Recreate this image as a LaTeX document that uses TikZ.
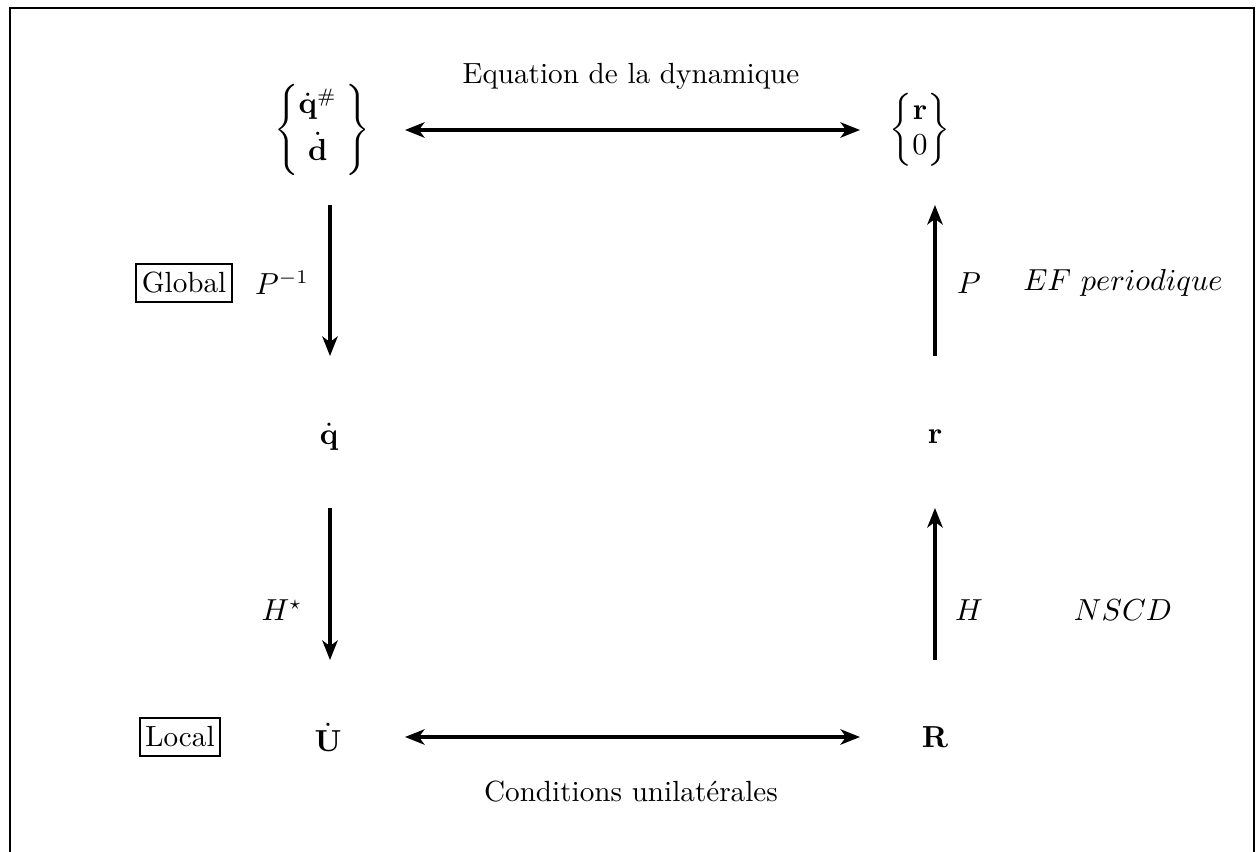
\documentclass[tikz,border=0pt]{standalone}
\usepackage{amsmath}
\usetikzlibrary{arrows.meta}
\begin{document}
\begin{tikzpicture}[x=0.36pt,y=-0.36pt,
  every node/.style={font=\fontsize{10.5}{12.6}\selectfont},
  arr/.style={line width=1.5pt,-{Stealth[length=7pt,width=5.5pt,inset=2pt]}},
  darr/.style={line width=1.5pt,{Stealth[length=7pt,width=5.5pt,inset=2pt]}-{Stealth[length=7pt,width=5.5pt,inset=2pt]}},
  lbl/.style={inner sep=1pt},
  boxed/.style={draw,line width=0.8pt,inner xsep=2pt,inner ysep=3pt}]
\useasboundingbox (0,0) rectangle (1256,852);
\draw[line width=0.9pt] (10,852) -- (10,8) -- (1254,8) -- (1254,852);
% nodes
\node[lbl] (qd) at (322,130) {$\left\{\begin{matrix}\dot{\mathbf{q}}^{\#}\\[3pt] \dot{\mathbf{d}}\end{matrix}\;\right\}$};
\node[lbl] (r0) at (920,130) {$\left\{\begin{matrix}\mathbf{r}\\ 0\end{matrix}\right\}$};
\node[lbl] (q) at (329,437) {$\dot{\mathbf{q}}$};
\node[lbl] (r) at (935,437) {$\mathbf{r}$};
\node[lbl] (U) at (328,737) {$\dot{\mathbf{U}}$};
\node[lbl] (R) at (935,737) {$\mathbf{R}$};
\node[boxed] (glob) at (184,283) {Global};
\node[boxed] (loc) at (180,737) {Local};
\node (title) at (631,76) {Equation de la dynamique};
\node (cond) at (631,792) {Conditions unilat\'erales};
\node (pinv) at (282,283) {$P^{-1}$};
\node (P) at (969,283) {$P$};
\node (ef) at (1123,283) {$EF\ periodique$};
\node (Hs) at (282,610) {$H^{\star}$};
\node (H) at (969,610) {$H$};
\node (nscd) at (1123,610) {$NSCD$};
% connectors
\coordinate (a1) at (405,130); \coordinate (a2) at (860,130);
\draw[darr] (a1) -- (a2);
\coordinate (b1) at (405,737); \coordinate (b2) at (860,737);
\draw[darr] (b1) -- (b2);
\coordinate (c1) at (330,205); \coordinate (c2) at (330,356);
\draw[arr] (c1) -- (c2);
\coordinate (d1) at (330,508); \coordinate (d2) at (330,660);
\draw[arr] (d1) -- (d2);
\coordinate (e1) at (935,356); \coordinate (e2) at (935,205);
\draw[arr] (e1) -- (e2);
\coordinate (f1) at (935,660); \coordinate (f2) at (935,508);
\draw[arr] (f1) -- (f2);
\end{tikzpicture}
\end{document}
